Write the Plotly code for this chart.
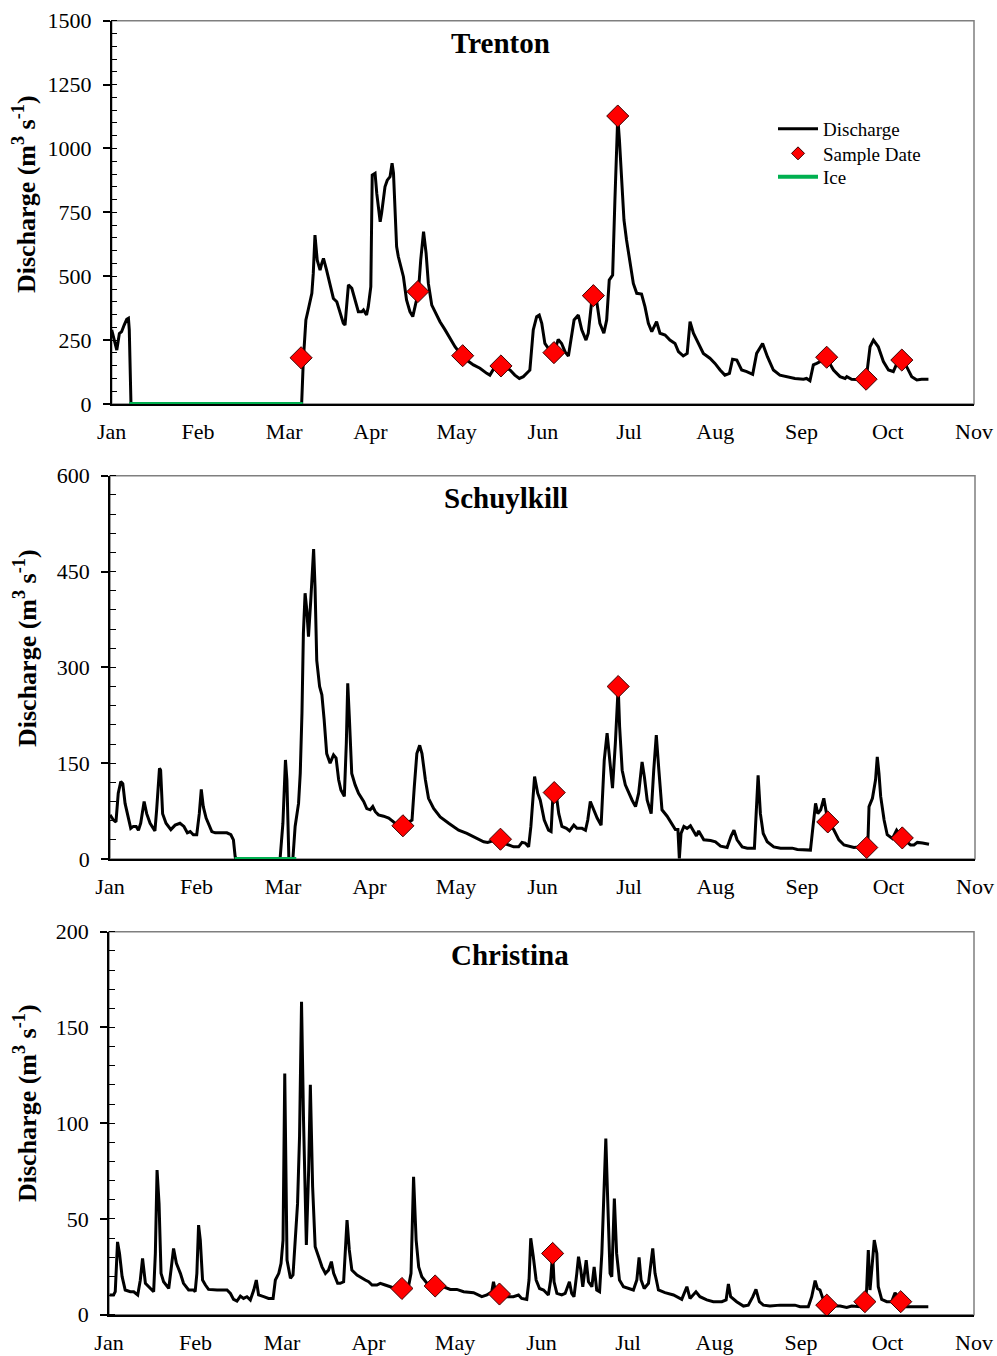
import plotly.graph_objects as go

# ---------------- data (day of year, 0 = Jan 1) ----------------
month_labels = ["Jan", "Feb", "Mar", "Apr", "May", "Jun", "Jul", "Aug", "Sep", "Oct", "Nov"]
month_len = 365 / 12
month_ticks = [i * month_len for i in range(len(month_labels))]

trenton_day = [0, 0.8, 1.8, 2.7, 3.5, 4.4, 5.3, 5.9, 6.2, 6.8, 67.0, 67.6, 68.5, 69.3, 70.6, 71.1, 71.7,
               72.5, 73.5, 74.1, 74.7, 75.8, 77.0, 78.2, 79.4, 80.5, 81.7, 82.3, 82.9, 83.5, 84.7, 85.9,
               87.0, 88.2, 88.8, 89.9, 90.5, 91.4, 91.9, 92.9, 93.5, 94.7, 95.2, 96.4, 97.2, 98.2, 98.9,
               99.4, 99.9, 100.5, 101.1, 101.7, 102.9, 104.0, 105.2, 106.2, 107.0, 108.2, 109.0, 110.0,
               110.9, 111.7, 112.9, 114.0, 115.8, 117.6, 119.3, 121.1, 122.9, 124.0, 125.2, 127.6, 129.9,
               132.3, 133.4, 135.2, 137.5, 140.5, 142.2, 143.8, 145.2, 147.0, 147.5, 148.7, 149.9, 150.8,
               151.7, 152.8, 154.0, 156.0, 157.5, 158.7, 159.9, 161.1, 162.2, 163.1, 164.6, 165.8, 167.3,
               168.1, 169.3, 169.9, 171.1, 172.2, 173.6, 174.6, 175.5, 176.7, 177.5, 178.1, 178.5, 179.1,
               179.9, 180.7, 181.6, 182.8, 184.0, 185.2, 186.9, 188.1, 189.3, 190.5, 192.2, 193.4, 195.2,
               196.9, 198.7, 199.9, 201.6, 203.0, 204.0, 205.2, 206.9, 208.7, 211.0, 212.8, 214.6, 216.3,
               217.9, 219.0, 220.5, 222.2, 224.0, 226.1, 227.5, 229.6, 231.3, 233.4, 235.7, 238.1, 241.0,
               244.0, 245.1, 246.3, 247.5, 248.7, 249.9, 252.2, 254.6, 256.9, 258.7, 259.3, 261.0, 264.0,
               266.1, 267.5, 268.7, 270.4, 272.2, 274.0, 275.7, 277.5, 278.7, 280.4, 282.2, 284.0, 285.7,
               288.1]
trenton_q = [290, 250, 211, 276, 283, 309, 331, 335, 290, 0, 0, 172, 329, 368, 433, 511, 661,
             563, 524, 550, 570, 524, 472, 413, 400, 355, 316, 309, 407, 466, 453, 400,
             361, 361, 368, 348, 381, 459, 896, 903, 824, 713, 746, 850, 876, 890, 942,
             903, 746, 616, 577, 550, 498, 407, 361, 342, 381, 440, 563, 674,
             590, 472, 387, 361, 322, 290, 257, 224, 198, 185, 172, 153, 140,
             120, 113, 146, 149, 133, 113, 100, 107, 127, 133, 290, 342, 348,
             316, 237, 218, 198, 253, 237, 205, 188, 277, 329, 348, 290, 250,
             277, 400, 423, 400, 316, 277, 329, 485, 505, 798, 1059, 1124, 1033,
             850, 720, 642, 563, 472, 433, 430, 381, 316, 283, 322, 277, 270,
             250, 237, 205, 188, 198, 322, 277, 237, 198, 179, 159, 133, 113,
             120, 175, 172, 133, 127, 116, 198, 237, 185, 133, 113, 107, 100,
             97, 100, 91, 153, 159, 166, 179, 133, 107, 100, 107, 97, 94,
             94, 224, 250, 224, 166, 133, 127, 172, 172, 146, 107, 94, 97,
             97]
trenton_sample_day = [66.8, 108.0, 123.8, 137.3, 156.0, 169.9, 178.5, 252.2, 266.1, 278.7]
trenton_sample_q = [181, 440, 189, 149, 201, 424, 1127, 183, 97, 172]
trenton_ice_day = [6.2, 67.4]
trenton_ice_q = [0, 0]

schuyl_day = [0, 1.2, 2.1, 2.9, 3.8, 4.5, 5.3, 6.2, 7.3, 8.2, 9.2, 10.0, 10.8, 12.0, 12.9, 14.1, 15.8,
              16.4, 17.4, 17.8, 18.5, 19.7, 21.4, 22.9, 24.6, 26.0, 27.2, 28.2, 29.3, 30.5, 31.4, 32.1,
              32.8, 33.8, 34.6, 35.8, 37.0, 38.7, 41.1, 42.5, 43.4, 44.0, 44.2, 59.8, 60.8, 61.7, 62.2,
              62.9, 64.3, 65.1, 66.3, 66.9, 67.5, 68.0, 68.6, 69.2, 69.8, 70.6, 71.6, 72.1, 72.7, 73.7,
              74.5, 75.3, 76.2, 77.4, 78.6, 79.5, 80.4, 81.2, 82.4, 83.1, 83.6, 84.2, 85.0, 86.2, 87.4,
              89.2, 90.3, 91.5, 92.4, 93.3, 94.4, 96.2, 98.0, 99.7, 101.5, 103.0, 106.2, 107.0, 107.9,
              108.9, 109.7, 110.9, 112.0, 113.8, 116.1, 119.1, 122.6, 125.5, 129.0, 131.4, 132.8, 134.9,
              137.3, 139.6, 141.9, 143.7, 144.9, 146.0, 147.2, 148.0, 149.3, 150.4, 151.3, 152.7, 154.2,
              155.1, 155.8, 156.2, 157.0, 157.8, 158.9, 160.5, 161.6, 163.1, 164.2, 166.0, 167.2, 168.0,
              168.9, 170.1, 171.3, 172.7, 173.8, 174.8, 175.7, 176.7, 177.7, 178.3, 178.7, 179.2, 180.1,
              181.2, 182.4, 183.6, 184.8, 185.9, 187.1, 187.9, 188.9, 190.3, 191.2, 192.1, 193.0, 194.1,
              195.9, 197.7, 198.8, 199.7, 200.2, 200.8, 201.8, 202.9, 204.1, 206.2, 207.0, 208.8, 211.2,
              212.9, 214.7, 217.0, 218.4, 219.4, 220.5, 222.3, 224.1, 226.6, 227.3, 227.9, 228.7, 229.7,
              231.1, 233.4, 235.8, 239.9, 241.7, 246.3, 247.2, 248.1, 248.9, 249.9, 251.0, 251.6, 252.4,
              254.6, 256.3, 258.1, 259.8, 261.6, 263.9, 265.2, 266.1, 266.5, 266.9, 268.1, 269.2, 269.8,
              270.4, 271.0, 272.2, 273.3, 275.1, 276.6, 277.4, 278.6, 280.4, 281.5, 282.7, 283.9, 285.7,
              288.0]
schuyl_q = [69, 61, 58, 103, 121, 118, 87, 71, 48, 51, 51, 45, 56, 90, 71, 56, 44,
            77, 142, 139, 71, 56, 46, 53, 56, 51, 41, 43, 38, 38, 71, 109,
            82, 64, 56, 43, 41, 41, 41, 38, 30, 4, 0, 0, 56, 155, 124,
            0, 0, 51, 87, 134, 228, 353, 416, 390, 348, 405, 485, 426, 311, 270,
            257, 218, 165, 150, 163, 158, 124, 108, 98, 181, 275, 218, 134, 116, 103,
            90, 79, 77, 82, 74, 69, 67, 64, 58, 51, 52, 61, 113, 165,
            178, 165, 124, 95, 79, 66, 56, 45, 40, 32, 27, 26, 29,
            31, 23, 19, 19, 26, 25, 19, 51, 129, 103, 92, 61, 45,
            43, 103, 104, 98, 71, 51, 48, 44, 53, 48, 48, 45, 61,
            90, 77, 64, 53, 155, 197, 155, 111, 181, 244, 270, 207, 139,
            116, 103, 92, 82, 103, 152, 129, 92, 71, 139, 194, 139, 77,
            67, 53, 46, 46, 1, 40, 51, 48, 52, 36, 44, 30, 29,
            27, 20, 18, 36, 45, 30, 19, 17, 17, 71, 131, 71, 40,
            27, 19, 17, 17, 15, 14, 51, 87, 71, 77, 95, 82, 60,
            45, 30, 22, 20, 18, 19, 15, 18, 25, 82, 95, 124, 160,
            134, 98, 61, 38, 32, 45, 40, 32, 26, 22, 22, 26, 25,
            23]
schuyl_sample_day = [103.0, 137.3, 156.2, 178.7, 252.4, 266.1, 278.6]
schuyl_sample_q = [52, 31, 104, 270, 58, 18, 33]
schuyl_ice_day = [43.8, 65.5]
schuyl_ice_q = [0, 0]

christ_day = [0.2, 1.6, 2.2, 3.0, 3.7, 4.6, 5.7, 7.5, 8.7, 10.1, 11.0, 11.8, 12.8, 14.5, 15.7, 16.3,
              16.9, 17.6, 18.3, 19.2, 21.0, 21.8, 22.7, 23.7, 25.1, 26.2, 28.0, 29.8, 30.3, 30.9, 31.5,
              32.1, 32.9, 33.9, 35.0, 38.0, 41.5, 42.7, 43.8, 45.0, 46.2, 47.3, 48.5, 49.7, 50.9, 51.8,
              52.6, 54.4, 56.1, 57.7, 58.5, 59.7, 60.5, 61.2, 61.8, 62.6, 63.8, 64.7, 65.5, 66.3, 67.0,
              67.7, 68.4, 69.4, 70.2, 70.8, 71.6, 72.5, 73.7, 74.9, 76.1, 77.2, 78.2, 79.0, 80.4, 81.3,
              82.5, 83.7, 84.5, 85.4, 87.2, 88.9, 90.1, 91.3, 92.5, 94.2, 95.4, 97.1, 98.9, 100.7, 103.0,
              105.3, 106.2, 107.1, 108.0, 108.9, 110.0, 111.8, 114.7, 117.6, 120.0, 122.3, 124.7, 128.2,
              131.1, 132.9, 134.6, 135.2, 136.0, 137.3, 139.9, 142.2, 144.0, 145.1, 146.9, 147.7, 148.3,
              149.2, 150.2, 151.4, 152.8, 154.5, 155.3, 156.0, 156.5, 157.5, 159.2, 160.4, 161.9, 162.7,
              163.5, 164.5, 165.1, 165.9, 166.6, 167.8, 168.6, 169.8, 170.6, 171.5, 172.5, 173.3, 174.1,
              174.7, 175.4, 176.2, 176.8, 177.4, 177.7, 178.5, 179.5, 180.9, 182.6, 184.4, 185.6, 186.4,
              187.1, 188.2, 189.7, 190.5, 191.2, 192.0, 193.2, 195.5, 198.5, 201.4, 202.2, 203.2, 204.3,
              206.4, 207.8, 210.2, 212.5, 215.5, 217.0, 217.8, 218.6, 220.7, 223.1, 224.8, 226.4, 227.5,
              228.7, 230.1, 232.4, 236.0, 241.2, 243.0, 245.9, 247.1, 248.3, 249.1, 250.0, 251.2, 252.4,
              254.7, 257.1, 259.4, 261.2, 264.1, 265.8, 266.4, 267.0, 267.6, 268.2, 269.1, 270.0, 270.5,
              271.7, 273.5, 275.2, 276.4, 277.2, 278.4, 280.5, 282.8, 288.1]
christ_q = [10.3, 10.3, 12, 38, 32, 20, 12.9, 12, 12, 10.3, 18, 29.4, 16.4, 13.7, 12, 32,
            75.5, 58, 21.6, 17.2, 13.7, 23.3, 34.6, 26.8, 21.6, 16.4, 12.9, 12.9, 12, 21.6, 46.8,
            39, 18.1, 15.5, 13.2, 12.9, 12.9, 11.1, 8, 7.1, 9.7, 8.5, 9.4, 7.7, 12.9, 18.1,
            10.3, 9.4, 8.5, 8.5, 18.1, 21.6, 26.8, 39, 126, 28.5, 19, 20.7, 39, 58, 93,
            163.4, 101.7, 36.4, 75.5, 120, 66.8, 35.5, 30.3, 25, 21.6, 23.3, 27.7, 21.6, 16.4, 16.4,
            17.2, 49.4, 33.8, 23.3, 20.7, 19, 18.1, 17.2, 15.5, 15.5, 16.4, 15.5, 14.6, 13.7, 13.7,
            14.6, 21.6, 72, 39, 25, 19.8, 16.4, 15, 14.6, 13.2, 13.2, 12, 11.5,
            9.4, 10.3, 12, 17.2, 11.5, 10.8, 9.4, 9.4, 10.3, 8.5, 8, 18.1, 39.9,
            30.3, 18.1, 13.7, 12.9, 10.3, 18.1, 32, 17.2, 11.1, 10.3, 11.1, 17.2, 11.1,
            9.4, 21.6, 30.3, 23.3, 14.6, 28.5, 17.2, 14.6, 25, 12.9, 12, 32, 66.8,
            92, 58, 21.6, 19.8, 49.4, 60.7, 32, 18.1, 14.6, 13.7, 12.9, 18.1, 29.9,
            18.1, 13.7, 16.4, 25, 34.6, 21.6, 12.9, 11.5, 10.3, 8, 11.1, 14.6, 8.5,
            12, 9.4, 7.7, 6.8, 6.8, 7.7, 16, 9.4, 6.8, 4.5, 5, 9.4, 13.2,
            6.8, 5, 4.5, 5, 5, 4.2, 4.2, 9.4, 17.8, 13.7, 12.9, 7.7, 5,
            4.5, 4.5, 3.8, 4.5, 4.2, 6.8, 12.9, 33.8, 12.9, 23.3, 39, 32, 14.6,
            8, 6.8, 6.8, 11.5, 9.4, 6.8, 4.2, 4.2, 4.2]
christ_sample_day = [103.0, 114.7, 137.3, 156.0, 252.4, 265.8, 278.4]
christ_sample_q = [13.7, 15, 10.8, 32, 5, 6.8, 6.8]

rivers = ["Trenton", "Schuylkill", "Christina"]
y_max = [1500, 600, 200]
y_major = [250, 150, 50]
y_minor = [50, 30, 10]

# ---------------- layout geometry (pixels) ----------------
W, H = 997, 1356
panels_px = [  # left, right, top, bottom
    (111.7, 974, 20.7, 404),
    (110, 975, 475.7, 859),
    (109, 974, 931.7, 1314.7),
]
title_px = [(500, 43), (506, 498), (510, 955)]
ytitle_px = [(25, 194), (25, 648), (25, 1103)]
legend_rows_px = [129, 153.5, 177]   # Discharge, Sample Date, Ice
legend_left_px = 773

FONT = "Times New Roman, Liberation Serif, serif"

fig = go.Figure()

series = [
    (trenton_day, trenton_q, trenton_sample_day, trenton_sample_q, trenton_ice_day, trenton_ice_q),
    (schuyl_day, schuyl_q, schuyl_sample_day, schuyl_sample_q, schuyl_ice_day, schuyl_ice_q),
    (christ_day, christ_q, christ_sample_day, christ_sample_q, None, None),
]

for i, (d, q, sd, sq, idy, iq) in enumerate(series):
    xa = "x" if i == 0 else f"x{i+1}"
    ya = "y" if i == 0 else f"y{i+1}"
    fig.add_trace(go.Scatter(x=d, y=q, mode="lines", line=dict(color="black", width=3),
                             xaxis=xa, yaxis=ya, name="Discharge", showlegend=(i == 0),
                             legend="legend"))
    if idy is not None:
        fig.add_trace(go.Scatter(x=idy, y=iq, mode="lines", line=dict(color="#00B050", width=4),
                                 xaxis=xa, yaxis=ya, name="Ice", showlegend=(i == 0),
                                 legend="legend3", cliponaxis=False))
    fig.add_trace(go.Scatter(x=sd, y=sq, mode="markers",
                             marker=dict(symbol="diamond", size=17, color="#FF0000",
                                         line=dict(color="#3a0000", width=1)),
                             xaxis=xa, yaxis=ya, name="Sample Date", showlegend=False,
                             cliponaxis=False))

# legend-only entry for the sample marker (smaller symbol, as in the legend)
fig.add_trace(go.Scatter(x=[None], y=[None], mode="markers",
                         marker=dict(symbol="diamond", size=10, color="#FF0000",
                                     line=dict(color="#3a0000", width=1)),
                         name="Sample Date", showlegend=True, legend="legend2"))


def legend_box(row_y):
    return dict(x=legend_left_px / W, y=1 - row_y / H, xanchor="left", yanchor="middle",
                bgcolor="rgba(0,0,0,0)", font=dict(size=19, family=FONT),
                itemwidth=40, borderwidth=0)


layout = dict(
    width=W, height=H,
    margin=dict(l=0, r=0, t=0, b=0, autoexpand=False),
    paper_bgcolor="white", plot_bgcolor="white",
    font=dict(family=FONT, color="black", size=22),
    legend=legend_box(legend_rows_px[0]),
    legend2=legend_box(legend_rows_px[1]),
    legend3=legend_box(legend_rows_px[2]),
    annotations=[], shapes=[],
)

for i in range(3):
    l, r, t, b = panels_px[i]
    xk = "xaxis" if i == 0 else f"xaxis{i+1}"
    yk = "yaxis" if i == 0 else f"yaxis{i+1}"
    ya = "y" if i == 0 else f"y{i+1}"
    xa = "x" if i == 0 else f"x{i+1}"
    layout[xk] = dict(domain=[l / W, r / W], anchor=ya, range=[0, 10 * month_len],
                      tickmode="array", tickvals=month_ticks, ticktext=month_labels,
                      showline=True, linecolor="black", linewidth=1.5, ticks="",
                      showgrid=False, zeroline=False, ticklabelstandoff=7,
                      automargin=False,
                      tickfont=dict(size=22, family=FONT))
    layout[yk] = dict(domain=[1 - b / H, 1 - t / H], anchor=xa, range=[0, y_max[i]],
                      dtick=y_major[i], tick0=0,
                      showline=True, linecolor="black", linewidth=1.5,
                      ticks="outside", ticklen=7, tickwidth=1.5, tickcolor="black",
                      minor=dict(dtick=y_minor[i], ticks="inside", ticklen=6, tickwidth=1,
                                 tickcolor="black"),
                      showgrid=False, zeroline=False, ticklabelstandoff=7,
                      automargin=False,
                      tickfont=dict(size=22, family=FONT))
    layout["shapes"].append(dict(type="rect", xref="paper", yref="paper",
                                 x0=l / W, x1=r / W, y0=1 - b / H, y1=1 - t / H,
                                 line=dict(color="#7f7f7f", width=1.5), layer="below"))
    tx, ty = title_px[i]
    layout["annotations"].append(dict(text=f"<b>{rivers[i]}</b>", xref="paper", yref="paper",
                                      x=tx / W, y=1 - ty / H, showarrow=False,
                                      font=dict(size=29, family=FONT),
                                      xanchor="center", yanchor="middle"))
    yx, yy = ytitle_px[i]
    layout["annotations"].append(dict(text="<b>Discharge (m<sup>3</sup> s<sup>-1</sup>)</b>",
                                      xref="paper", yref="paper", x=yx / W, y=1 - yy / H,
                                      showarrow=False, textangle=-90,
                                      font=dict(size=26, family=FONT),
                                      xanchor="center", yanchor="middle"))

fig.update_layout(**layout)
fig.write_html("out.html")
